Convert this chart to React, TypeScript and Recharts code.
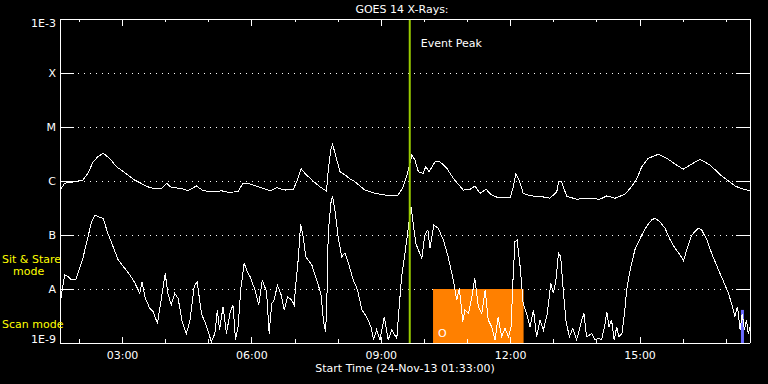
import React from 'react';
import { LineChart, Line, XAxis, YAxis, CartesianGrid, ReferenceLine, ReferenceArea } from 'recharts';

const FONT = '"DejaVu Sans", sans-serif';

// flux levels (W/m^2) and the GOES class letters used as tick labels
const fluxTicks = [1e-9, 1e-8, 1e-7, 1e-6, 1e-5, 1e-4, 1e-3];
const fluxLabels = ['1E-9', 'A', 'B', 'C', 'M', 'X', '1E-3'];

// time axis in decimal hours UT, start 01:33
const startHour = 1.55;
const endHour = 17.55;
const hourTicks = [2, 3, 4, 5, 6, 7, 8, 9, 10, 11, 12, 13, 14, 15, 16, 17];

const eventPeak = 9.66;
const sitStareStart = 10.2;
const sitStareEnd = 12.3;
const scanStart = 17.34;
const scanEnd = 17.41;
const scanTop = 4.1e-9;

// long channel (1-8 A)
const longTimes = [
  1.55, 1.66, 1.89, 2.08, 2.2, 2.32, 2.43, 2.55, 2.7, 2.86,
  3.05, 3.28, 3.59, 3.75, 3.9, 4.02, 4.13, 4.36, 4.52, 4.71,
  4.87, 5.14, 5.29, 5.45, 5.68, 5.79, 5.91, 6.15, 6.42, 6.58,
  6.77, 6.96, 7.06, 7.14, 7.23, 7.39, 7.58, 7.73, 7.77, 7.83,
  7.87, 7.93, 8.04, 8.16, 8.28, 8.39, 8.62, 8.85, 9.09, 9.39,
  9.51, 9.63, 9.71, 9.78, 9.86, 9.97, 10.03, 10.11, 10.25, 10.36,
  10.52, 10.67, 10.9, 11.06, 11.17, 11.29, 11.43, 11.56, 11.71, 11.99,
  12.06, 12.12, 12.2, 12.29, 12.45, 12.68, 12.91, 13.07, 13.11, 13.18,
  13.3, 13.53, 13.76, 14.07, 14.23, 14.42, 14.65, 14.77, 14.92, 15.04,
  15.19, 15.42, 15.62, 15.81, 16.0, 16.16, 16.39, 16.62, 16.89, 17.2,
  17.36, 17.55,
];
const longFlux = [
  6.8e-7, 9.1e-7, 9.7e-7, 1.04e-6, 1.39e-6, 2.28e-6, 2.82e-6, 3.26e-6, 2.63e-6, 1.84e-6,
  1.43e-6, 1.04e-6, 7.8e-7, 7.1e-7, 7.3e-7, 9.1e-7, 7.6e-7, 7.3e-7, 6.6e-7, 8.1e-7,
  6.6e-7, 6.3e-7, 6.6e-7, 6.2e-7, 6.3e-7, 9.1e-7, 9.1e-7, 7.8e-7, 6.6e-7, 7.5e-7,
  6.8e-7, 7.0e-7, 1.07e-6, 1.69e-6, 1.39e-6, 1.04e-6, 7.8e-7, 6.5e-7, 1.6e-6, 3.75e-6,
  4.7e-6, 3.26e-6, 1.49e-6, 1.29e-6, 1.09e-6, 9.7e-7, 6.8e-7, 5.9e-7, 5.5e-7, 5.5e-7,
  7.8e-7, 1.6e-6, 3.03e-6, 2.45e-6, 1.49e-6, 1.39e-6, 1.84e-6, 1.49e-6, 2.28e-6, 2.28e-6,
  1.72e-6, 1.12e-6, 6.8e-7, 7.0e-7, 8.1e-7, 5.9e-7, 7.0e-7, 5.5e-7, 4.9e-7, 4.95e-7,
  7.8e-7, 1.33e-6, 1.04e-6, 5.9e-7, 5.3e-7, 5.2e-7, 4.8e-7, 6.3e-7, 9.7e-7, 9.7e-7,
  5.2e-7, 4.6e-7, 4.8e-7, 4.6e-7, 5.3e-7, 4.8e-7, 5.7e-7, 7.3e-7, 1.07e-6, 1.84e-6,
  2.63e-6, 3.12e-6, 2.63e-6, 2.07e-6, 1.65e-6, 1.98e-6, 2.52e-6, 1.98e-6, 1.25e-6, 8.1e-7,
  7.2e-7, 6.6e-7,
];

// short channel (0.5-4 A)
const shortTimes = [
  1.55, 1.6, 1.66, 1.74, 1.81, 1.91, 1.98, 2.08, 2.2, 2.28,
  2.36, 2.47, 2.55, 2.66, 2.78, 2.9, 3.05, 3.17, 3.27, 3.4,
  3.45, 3.53, 3.63, 3.71, 3.81, 3.9, 3.99, 4.05, 4.13, 4.21,
  4.29, 4.38, 4.48, 4.56, 4.66, 4.73, 4.83, 4.94, 5.06, 5.14,
  5.2, 5.25, 5.33, 5.41, 5.49, 5.56, 5.62, 5.68, 5.74, 5.82,
  5.91, 5.96, 6.07, 6.16, 6.24, 6.34, 6.4, 6.46, 6.52, 6.59,
  6.68, 6.75, 6.83, 6.92, 6.98, 7.02, 7.08, 7.13, 7.19, 7.25,
  7.39, 7.5, 7.6, 7.66, 7.71, 7.74, 7.77, 7.83, 7.87, 7.93,
  8.0, 8.08, 8.16, 8.24, 8.35, 8.45, 8.55, 8.66, 8.76, 8.82,
  8.89, 8.97, 9.07, 9.16, 9.24, 9.36, 9.41, 9.47, 9.55, 9.63,
  9.69, 9.74, 9.8, 9.86, 9.94, 10.01, 10.08, 10.13, 10.22, 10.32,
  10.44, 10.55, 10.67, 10.75, 10.81, 10.89, 10.94, 11.02, 11.1, 11.17,
  11.25, 11.33, 11.41, 11.48, 11.56, 11.64, 11.71, 11.79, 11.87, 11.95,
  12.01, 12.05, 12.1, 12.15, 12.22, 12.29, 12.37, 12.45, 12.53, 12.6,
  12.68, 12.76, 12.85, 12.93, 12.99, 13.05, 13.11, 13.16, 13.22, 13.28,
  13.36, 13.44, 13.53, 13.65, 13.7, 13.76, 13.88, 13.96, 14.03, 14.11,
  14.19, 14.23, 14.28, 14.34, 14.4, 14.46, 14.51, 14.58, 14.64, 14.69,
  14.77, 14.88, 15.04, 15.16, 15.27, 15.35, 15.46, 15.58, 15.7, 15.81,
  15.93, 16.01, 16.08, 16.2, 16.35, 16.43, 16.55, 16.66, 16.82, 16.97,
  17.05, 17.13, 17.2, 17.26, 17.32, 17.37, 17.42, 17.47, 17.51, 17.55,
];
const shortFlux = [
  5.1e-9, 9.6e-9, 1.82e-8, 1.69e-8, 1.47e-8, 1.47e-8, 2.09e-8, 3.7e-8, 9.3e-8, 1.76e-7,
  2.35e-7, 2.13e-7, 2.04e-7, 1.07e-7, 6.1e-8, 3.44e-8, 2.42e-8, 1.82e-8, 1.37e-8, 8.3e-9,
  1.37e-8, 6.7e-9, 4.4e-9, 3.8e-9, 2.3e-9, 6.7e-9, 1.95e-8, 8.3e-9, 5.1e-9, 8.3e-9,
  6.7e-9, 2.5e-9, 1.5e-9, 2.5e-9, 1.1e-8, 1.37e-8, 3.5e-9, 2.15e-9, 1.05e-9, 1.5e-9,
  4.1e-9, 1.74e-9, 4.7e-9, 1.5e-9, 3.5e-9, 5.1e-9, 1.14e-9, 2.0e-9, 9.6e-9, 2.99e-8,
  1.95e-8, 1.69e-8, 9.6e-9, 5.1e-9, 1.47e-8, 8.9e-9, 1.5e-9, 5.4e-9, 6.3e-9, 1.19e-8,
  7.7e-9, 4.1e-9, 7.2e-9, 6.3e-9, 5.1e-9, 1.28e-8, 3.96e-8, 1.6e-7, 9.3e-8, 3.96e-8,
  2.78e-8, 1.47e-8, 8.3e-9, 2.5e-9, 1.62e-9, 7.2e-9, 1.07e-7, 3.86e-7, 5.3e-7, 2.7e-7,
  9.3e-8, 3.96e-8, 4.6e-8, 3.0e-8, 1.47e-8, 9.6e-9, 4.1e-9, 3.07e-9, 2.0e-9, 1.14e-9,
  1.74e-9, 1.14e-9, 3.07e-9, 1.14e-9, 1.74e-9, 1.22e-9, 4.1e-9, 1.69e-8, 4.6e-8, 1.43e-7,
  3.34e-7, 1.65e-7, 7.0e-8, 5.3e-8, 3.7e-8, 1.0e-7, 1.24e-7, 5.7e-8, 1.53e-7, 1.33e-7,
  8.1e-8, 3.96e-8, 1.47e-8, 6.3e-9, 1.03e-8, 2.5e-9, 4.1e-9, 3.5e-9, 7.2e-9, 1.58e-8,
  4.7e-9, 3.5e-9, 9.6e-9, 2.67e-9, 2.0e-9, 1.14e-9, 3.07e-9, 1.3e-9, 1.87e-9, 1.3e-9,
  2.0e-9, 1.28e-8, 7.5e-8, 8.1e-8, 2.59e-8, 5.4e-9, 3.5e-9, 2.0e-9, 4.1e-9, 1.3e-9,
  2.67e-9, 1.74e-9, 3.5e-9, 1.28e-8, 8.3e-9, 1.47e-8, 4.6e-8, 3.96e-8, 9.6e-9, 2.67e-9,
  1.3e-9, 1.87e-9, 1.14e-9, 2.67e-9, 3.5e-9, 1.3e-9, 1.5e-9, 1.14e-9, 1.22e-9, 1.14e-9,
  2.3e-9, 3.8e-9, 2.0e-9, 2.67e-9, 1.14e-9, 2.0e-9, 1.3e-9, 1.5e-9, 3.5e-9, 9.6e-9,
  2.25e-8, 5.3e-8, 1.0e-7, 1.47e-7, 1.9e-7, 2.04e-7, 1.76e-7, 1.33e-7, 8.1e-8, 5.7e-8,
  4.26e-8, 3.34e-8, 5.3e-8, 1.0e-7, 1.33e-7, 1.24e-7, 8.1e-8, 4.6e-8, 2.25e-8, 1.19e-8,
  8.3e-9, 5.1e-9, 3.07e-9, 4.7e-9, 1.74e-9, 3.5e-9, 1.74e-9, 2.67e-9, 1.5e-9, 2.0e-9,
];

const longData = longTimes.map((t, i) => ({ t, v: longFlux[i] }));
const shortData = shortTimes.map((t, i) => ({ t, v: shortFlux[i] }));

const hhmm = (h: number) => `${String(h).padStart(2, '0')}:00`;

const txt = { fill: '#fff', fontSize: 11, fontFamily: FONT };

function LeftTick({ x, y, index }: any) {
  const shift = index === 0 ? -4 : index === fluxTicks.length - 1 ? 4 : 0;
  return (
    <g>
      <line x1={x + 4} x2={x + 18} y1={y} y2={y} stroke="#fff" shapeRendering="crispEdges" />
      <text x={x} y={y + shift} textAnchor="end" dominantBaseline="central" {...txt}>
        {fluxLabels[index]}
      </text>
    </g>
  );
}

function RightTick({ x, y }: any) {
  return <line x1={x - 14} x2={x} y1={y} y2={y} stroke="#fff" shapeRendering="crispEdges" />;
}

function BottomTick({ x, y, payload }: any) {
  const major = payload.value % 3 === 0;
  const axisY = y - 12;
  return (
    <g>
      <line x1={x} x2={x} y1={axisY} y2={axisY - (major ? 6 : 4)} stroke="#fff" shapeRendering="crispEdges" />
      {major && (
        <text x={x} y={y} textAnchor="middle" dominantBaseline="central" {...txt}>
          {hhmm(payload.value)}
        </text>
      )}
    </g>
  );
}

function TopTick({ x, y, payload }: any) {
  const major = payload.value % 3 === 0;
  return <line x1={x} x2={x} y1={y} y2={y + (major ? 7 : 3)} stroke="#fff" shapeRendering="crispEdges" />;
}

function PeakLabel({ viewBox }: any) {
  return (
    <text x={viewBox.x + 11} y={viewBox.y + 24} dominantBaseline="central" {...txt}>
      Event Peak
    </text>
  );
}

function ModeLabel({ viewBox }: any) {
  return (
    <text x={viewBox.x + 5} y={viewBox.y + viewBox.height - 10} dominantBaseline="central" {...txt}>
      O
    </text>
  );
}

function Note({ x, y, color = '#fff', center = false, children }: any) {
  return (
    <div
      style={{
        position: 'absolute',
        left: x,
        top: y,
        transform: `translate(${center ? '-50%' : '0'}, -50%)`,
        color,
        fontFamily: FONT,
        fontSize: 11,
        whiteSpace: 'nowrap',
        lineHeight: 1,
      }}
    >
      {children}
    </div>
  );
}

export default function App() {
  return (
    <div style={{ position: 'fixed', left: 0, top: 0, width: 768, height: 384, background: '#000', overflow: 'hidden' }}>
      <LineChart width={768} height={384} margin={{ top: 0, right: 0, bottom: 0, left: 0 }}>
        <CartesianGrid horizontal vertical={false} stroke="#fff" strokeDasharray="1 5" shapeRendering="crispEdges" />
        <XAxis
          dataKey="t"
          type="number"
          domain={[startHour, endHour]}
          allowDataOverflow
          ticks={hourTicks}
          interval={0}
          height={41}
          tickSize={0}
          tickMargin={12}
          tickLine={false}
          axisLine={{ stroke: '#fff', shapeRendering: 'crispEdges' }}
          tick={<BottomTick />}
        />
        <XAxis
          xAxisId="top"
          orientation="top"
          dataKey="t"
          type="number"
          domain={[startHour, endHour]}
          allowDataOverflow
          ticks={hourTicks}
          interval={0}
          height={19}
          tickSize={0}
          tickMargin={0}
          tickLine={false}
          axisLine={{ stroke: '#fff', shapeRendering: 'crispEdges' }}
          tick={<TopTick />}
        />
        <YAxis
          type="number"
          scale="log"
          domain={[1e-9, 1e-3]}
          allowDataOverflow
          ticks={fluxTicks}
          interval={0}
          width={60}
          tickSize={0}
          tickMargin={4}
          tickLine={false}
          axisLine={{ stroke: '#fff', shapeRendering: 'crispEdges' }}
          tick={<LeftTick />}
        />
        <YAxis
          yAxisId="right"
          orientation="right"
          type="number"
          scale="log"
          domain={[1e-9, 1e-3]}
          allowDataOverflow
          ticks={fluxTicks}
          interval={0}
          width={18}
          tickSize={0}
          tickMargin={0}
          tickLine={false}
          axisLine={{ stroke: '#fff', shapeRendering: 'crispEdges' }}
          tick={<RightTick />}
        />
        <ReferenceArea
          x1={sitStareStart}
          x2={sitStareEnd}
          y1={1e-9}
          y2={1e-8}
          fill="#ff8000"
          fillOpacity={1}
          stroke="none"
          label={<ModeLabel />}
        />
        <ReferenceArea x1={scanStart} x2={scanEnd} y1={1e-9} y2={scanTop} fill="#6b6bff" fillOpacity={1} stroke="none" />
        <Line
          data={longData}
          dataKey="v"
          type="linear"
          stroke="#fff"
          strokeWidth={1}
          dot={false}
          shapeRendering="crispEdges"
          isAnimationActive={false}
        />
        <Line
          data={shortData}
          dataKey="v"
          type="linear"
          stroke="#fff"
          strokeWidth={1}
          dot={false}
          shapeRendering="crispEdges"
          isAnimationActive={false}
        />
        <ReferenceLine x={eventPeak} stroke="#99cc00" strokeWidth={2} label={<PeakLabel />} />
      </LineChart>
      <Note x={402} y={9} center>GOES 14 X-Rays:</Note>
      <Note x={405} y={368} center>Start Time (24-Nov-13 01:33:00)</Note>
      <Note x={2} y={259} color="#ffff00">Sit &amp; Stare</Note>
      <Note x={13} y={271} color="#ffff00">mode</Note>
      <Note x={2} y={324} color="#ffff00">Scan mode</Note>
    </div>
  );
}
